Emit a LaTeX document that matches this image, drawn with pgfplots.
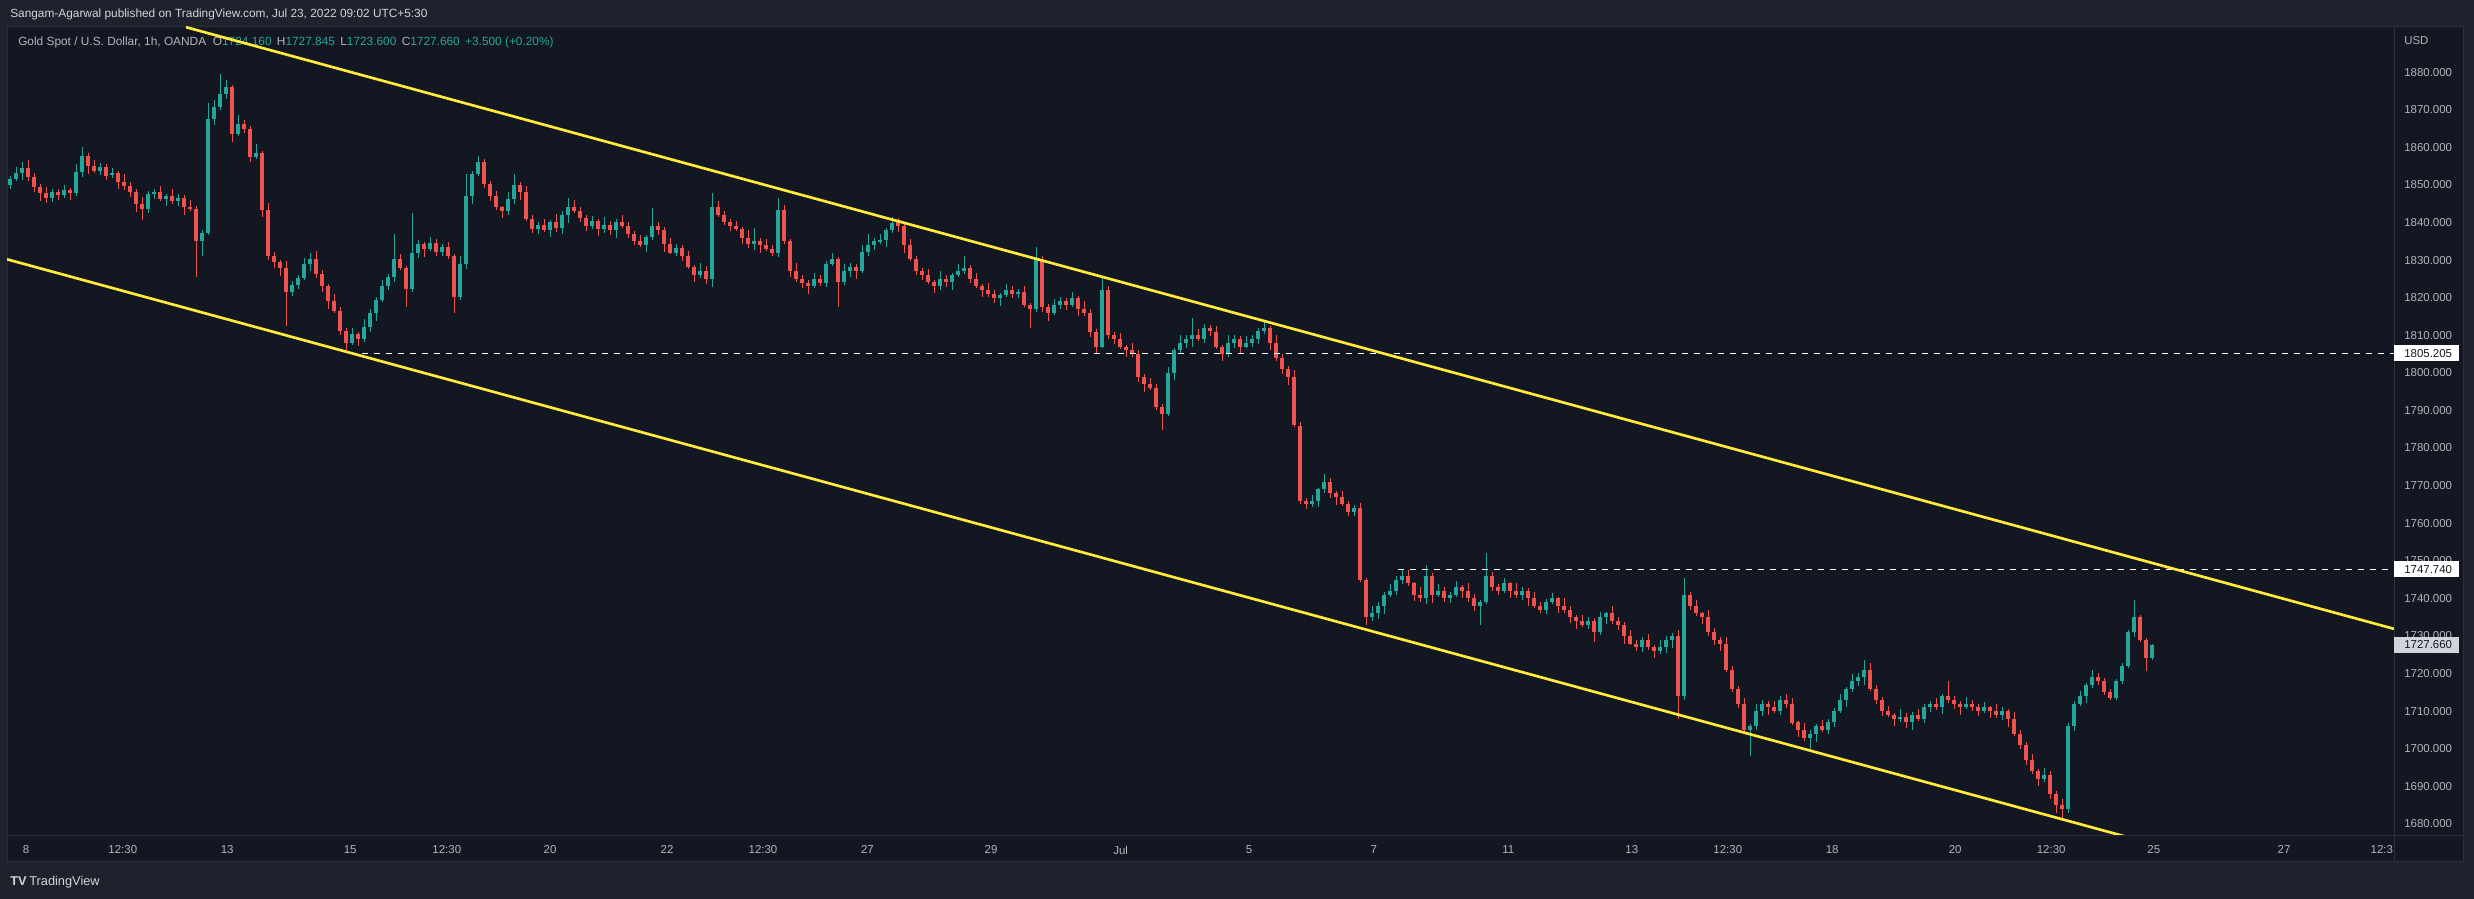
\documentclass[border=0pt]{standalone}
\usepackage{fontspec}
\setmainfont{Liberation Sans}
\usepackage{pgfplots}
\usepackage{pgfplotstable}
\pgfplotsset{compat=1.18}

\definecolor{tvbg}{HTML}{131722}
\definecolor{tvout}{HTML}{1E222D}
\definecolor{tvline}{HTML}{2A2E39}
\definecolor{tvtext}{HTML}{B2B5BE}
\definecolor{tvlight}{HTML}{D1D4DC}
\definecolor{up}{HTML}{26A69A}
\definecolor{down}{HTML}{EF5350}
\definecolor{chan}{HTML}{FFEB3B}

\newcommand{\tvf}{\fontsize{8.6}{10}\selectfont}
\newcommand{\tvh}{\fontsize{8.9}{10}\selectfont}

% XAUUSD, one candle per row (i = bar position)
\pgfplotstableread{
i o h l c
0 1850.0 1852.3 1848.8 1851.5
1 1851.5 1854.7 1850.9 1853.2
2 1853.2 1856.0 1851.4 1854.5
3 1854.5 1856.5 1851.1 1852.0
4 1852.0 1853.1 1848.1 1849.5
5 1849.5 1850.2 1845.7 1847.8
6 1847.8 1849.5 1845.2 1846.5
7 1846.5 1849.0 1845.5 1848.0
8 1848.0 1848.8 1846.0 1847.2
9 1847.2 1850.1 1846.6 1848.6
10 1848.6 1849.1 1846.1 1847.9
11 1847.9 1855.5 1847.0 1853.5
12 1853.5 1860.2 1852.1 1857.8
13 1857.8 1858.5 1852.9 1855.0
14 1855.0 1856.7 1853.1 1853.6
15 1853.6 1855.8 1852.6 1854.8
16 1854.8 1855.6 1851.3 1852.5
17 1852.5 1854.6 1851.9 1853.1
18 1853.1 1853.6 1849.0 1850.8
19 1850.8 1852.8 1848.7 1849.6
20 1849.6 1850.7 1846.8 1848.2
21 1848.2 1848.9 1842.9 1845.0
22 1845.0 1846.7 1840.6 1843.6
23 1843.6 1848.5 1842.6 1847.5
24 1847.5 1848.9 1846.3 1848.1
25 1848.1 1849.6 1845.7 1846.3
26 1846.3 1847.5 1844.5 1847.0
27 1847.0 1849.0 1844.9 1845.8
28 1845.8 1847.7 1844.4 1846.6
29 1846.6 1847.3 1842.1 1844.2
30 1844.2 1845.9 1843.0 1843.5
31 1843.5 1844.5 1825.5 1835.0
32 1835.0 1838.0 1831.0 1837.2
33 1837.2 1871.8 1836.6 1867.5
34 1867.5 1872.5 1866.0 1870.8
35 1870.8 1879.6 1869.9 1874.2
36 1874.2 1878.0 1872.8 1876.0
37 1876.0 1876.7 1861.4 1863.5
38 1863.5 1868.5 1863.0 1866.2
39 1866.2 1867.2 1863.8 1864.8
40 1864.8 1865.6 1856.2 1857.4
41 1857.4 1861.0 1856.8 1858.6
42 1858.6 1859.1 1841.4 1843.2
43 1843.2 1845.2 1830.1 1831.0
44 1831.0 1832.1 1828.0 1829.4
45 1829.4 1830.1 1825.9 1828.0
46 1828.0 1829.7 1812.5 1821.5
47 1821.5 1824.4 1820.5 1823.4
48 1823.4 1826.0 1822.2 1825.2
49 1825.2 1830.5 1824.6 1829.0
50 1829.0 1831.8 1827.2 1830.4
51 1830.4 1832.4 1825.3 1826.2
52 1826.2 1827.3 1821.6 1823.0
53 1823.0 1823.7 1817.1 1819.2
54 1819.2 1820.9 1816.0 1816.5
55 1816.5 1817.5 1810.2 1811.2
56 1811.2 1812.0 1805.2 1808.0
57 1808.0 1811.9 1807.4 1810.4
58 1810.4 1810.9 1807.2 1809.0
59 1809.0 1814.3 1808.1 1812.3
60 1812.3 1817.1 1810.9 1816.0
61 1816.0 1820.1 1813.9 1819.4
62 1819.4 1824.7 1818.9 1823.0
63 1823.0 1826.4 1822.0 1825.4
64 1825.4 1837.0 1824.2 1830.2
65 1830.2 1831.7 1827.4 1828.0
66 1828.0 1828.5 1817.5 1822.4
67 1822.4 1842.5 1821.5 1832.0
68 1832.0 1835.3 1830.6 1834.2
69 1834.2 1834.9 1830.9 1833.0
70 1833.0 1836.2 1832.5 1834.5
71 1834.5 1835.5 1831.2 1832.2
72 1832.2 1834.2 1831.0 1833.4
73 1833.4 1834.9 1830.4 1831.0
74 1831.0 1831.5 1816.0 1820.2
75 1820.2 1831.0 1819.3 1829.0
76 1829.0 1853.0 1827.6 1847.0
77 1847.0 1853.7 1844.9 1853.0
78 1853.0 1857.7 1852.5 1856.0
79 1856.0 1857.0 1849.2 1850.2
80 1850.2 1851.0 1845.8 1847.0
81 1847.0 1848.5 1843.4 1844.0
82 1844.0 1844.5 1841.2 1843.0
83 1843.0 1848.2 1842.1 1846.2
84 1846.2 1853.0 1844.8 1850.0
85 1850.0 1850.7 1845.9 1848.0
86 1848.0 1849.7 1840.5 1841.0
87 1841.0 1842.0 1837.2 1838.2
88 1838.2 1840.2 1837.0 1839.4
89 1839.4 1840.9 1837.4 1838.0
90 1838.0 1840.7 1836.2 1840.2
91 1840.2 1842.2 1837.5 1838.4
92 1838.4 1843.1 1837.0 1842.0
93 1842.0 1846.5 1839.9 1844.2
94 1844.2 1845.9 1842.5 1843.0
95 1843.0 1844.0 1840.2 1841.2
96 1841.2 1842.0 1837.8 1839.0
97 1839.0 1841.8 1838.4 1840.3
98 1840.3 1840.8 1836.4 1838.2
99 1838.2 1841.4 1837.3 1839.4
100 1839.4 1840.5 1836.6 1838.0
101 1838.0 1840.9 1835.9 1840.2
102 1840.2 1841.9 1838.5 1839.0
103 1839.0 1840.0 1836.0 1837.0
104 1837.0 1837.8 1834.0 1835.2
105 1835.2 1836.7 1833.4 1834.0
106 1834.0 1836.7 1832.2 1836.2
107 1836.2 1843.8 1835.3 1839.0
108 1839.0 1840.1 1836.6 1838.0
109 1838.0 1838.7 1832.1 1834.2
110 1834.2 1835.9 1831.5 1832.0
111 1832.0 1834.2 1831.0 1833.2
112 1833.2 1834.0 1829.8 1831.0
113 1831.0 1832.5 1827.6 1828.2
114 1828.2 1828.7 1824.2 1826.0
115 1826.0 1829.2 1825.1 1827.2
116 1827.2 1828.3 1823.6 1825.0
117 1825.0 1847.8 1822.9 1844.0
118 1844.0 1845.7 1841.5 1842.0
119 1842.0 1843.0 1839.2 1840.2
120 1840.2 1841.0 1837.8 1839.0
121 1839.0 1840.5 1837.6 1838.2
122 1838.2 1838.7 1834.2 1836.0
123 1836.0 1838.0 1833.3 1834.2
124 1834.2 1838.5 1832.8 1835.2
125 1835.2 1835.9 1831.9 1834.0
126 1834.0 1835.7 1832.5 1833.0
127 1833.0 1834.0 1831.0 1832.0
128 1832.0 1846.5 1830.8 1843.2
129 1843.2 1844.7 1834.4 1835.0
130 1835.0 1835.5 1825.4 1827.2
131 1827.2 1829.2 1824.1 1825.0
132 1825.0 1826.1 1822.6 1824.0
133 1824.0 1824.7 1821.1 1823.2
134 1823.2 1826.7 1822.7 1825.0
135 1825.0 1826.0 1823.0 1824.0
136 1824.0 1829.8 1822.8 1829.0
137 1829.0 1832.0 1828.4 1830.2
138 1830.2 1830.7 1817.5 1824.2
139 1824.2 1829.0 1823.3 1827.0
140 1827.0 1829.3 1825.6 1828.2
141 1828.2 1828.9 1824.9 1827.0
142 1827.0 1833.9 1826.5 1832.2
143 1832.2 1837.0 1831.2 1834.0
144 1834.0 1835.8 1832.8 1835.0
145 1835.0 1836.9 1834.4 1835.4
146 1835.4 1838.5 1833.6 1838.0
147 1838.0 1841.5 1837.1 1840.0
148 1840.0 1841.1 1837.6 1839.0
149 1839.0 1839.7 1831.9 1834.0
150 1834.0 1835.7 1829.7 1830.2
151 1830.2 1831.2 1826.0 1827.0
152 1827.0 1827.8 1824.8 1826.0
153 1826.0 1827.5 1823.6 1824.2
154 1824.2 1824.7 1821.2 1823.0
155 1823.0 1827.0 1822.1 1825.0
156 1825.0 1826.1 1822.8 1824.2
157 1824.2 1826.7 1822.1 1826.0
158 1826.0 1828.9 1825.5 1827.2
159 1827.2 1831.0 1826.2 1828.0
160 1828.0 1828.8 1823.8 1825.0
161 1825.0 1826.5 1822.6 1823.2
162 1823.2 1823.7 1820.2 1822.0
163 1822.0 1824.0 1820.1 1821.0
164 1821.0 1822.1 1818.6 1820.0
165 1820.0 1821.3 1817.9 1820.6
166 1820.6 1823.7 1820.1 1822.0
167 1822.0 1823.0 1820.0 1821.0
168 1821.0 1822.3 1819.8 1821.5
169 1821.5 1823.0 1817.4 1818.0
170 1818.0 1818.5 1812.0 1817.0
171 1817.0 1833.5 1816.1 1830.0
172 1830.0 1831.1 1816.1 1817.5
173 1817.5 1818.2 1813.9 1816.0
174 1816.0 1819.7 1815.5 1818.0
175 1818.0 1820.2 1817.0 1819.2
176 1819.2 1820.0 1816.8 1818.0
177 1818.0 1821.5 1817.4 1820.0
178 1820.0 1820.5 1815.2 1817.0
179 1817.0 1819.0 1815.1 1816.0
180 1816.0 1817.1 1809.6 1811.0
181 1811.0 1811.7 1805.2 1807.0
182 1807.0 1825.5 1806.5 1822.0
183 1822.0 1823.0 1809.0 1810.0
184 1810.0 1810.8 1807.8 1809.0
185 1809.0 1810.5 1806.4 1807.0
186 1807.0 1807.5 1804.2 1806.0
187 1806.0 1808.0 1804.1 1805.0
188 1805.0 1806.1 1797.6 1799.0
189 1799.0 1799.7 1794.9 1797.0
190 1797.0 1798.7 1795.5 1796.0
191 1796.0 1797.0 1790.0 1791.0
192 1791.0 1791.8 1784.8 1789.0
193 1789.0 1801.5 1788.4 1800.0
194 1800.0 1806.5 1798.2 1806.0
195 1806.0 1810.0 1805.1 1808.0
196 1808.0 1810.1 1806.6 1809.0
197 1809.0 1814.6 1806.9 1810.0
198 1810.0 1811.7 1808.5 1809.0
199 1809.0 1813.0 1808.0 1812.0
200 1812.0 1812.8 1809.8 1811.0
201 1811.0 1812.5 1806.4 1807.0
202 1807.0 1807.5 1803.2 1805.0
203 1805.0 1810.0 1804.1 1808.0
204 1808.0 1810.1 1806.6 1809.0
205 1809.0 1809.7 1804.9 1807.0
206 1807.0 1809.7 1806.5 1808.0
207 1808.0 1810.0 1807.0 1809.0
208 1809.0 1811.8 1807.8 1811.0
209 1811.0 1813.5 1810.4 1812.0
210 1812.0 1812.5 1806.2 1808.0
211 1808.0 1810.0 1803.1 1804.0
212 1804.0 1805.1 1799.6 1801.0
213 1801.0 1801.7 1796.9 1799.0
214 1799.0 1800.7 1785.5 1786.0
215 1786.0 1787.0 1765.0 1766.0
216 1766.0 1766.8 1763.8 1765.0
217 1765.0 1767.5 1764.4 1766.0
218 1766.0 1769.5 1764.2 1769.0
219 1769.0 1773.0 1768.1 1771.0
220 1771.0 1772.1 1766.6 1768.0
221 1768.0 1768.7 1764.9 1767.0
222 1767.0 1768.7 1764.5 1765.0
223 1765.0 1766.0 1762.0 1763.0
224 1763.0 1764.8 1761.8 1764.0
225 1764.0 1765.5 1744.4 1745.0
226 1745.0 1745.5 1733.0 1735.0
227 1735.0 1738.0 1734.1 1736.0
228 1736.0 1739.1 1734.6 1738.0
229 1738.0 1741.7 1735.9 1741.0
230 1741.0 1743.7 1740.5 1742.0
231 1742.0 1746.0 1741.0 1745.0
232 1745.0 1747.7 1743.8 1746.0
233 1746.0 1747.5 1743.4 1744.0
234 1744.0 1744.5 1739.2 1741.0
235 1741.0 1743.0 1739.1 1740.0
236 1740.0 1749.0 1738.6 1746.0
237 1746.0 1746.7 1738.9 1741.0
238 1741.0 1743.7 1740.5 1742.0
239 1742.0 1743.0 1739.0 1740.0
240 1740.0 1741.8 1738.8 1741.0
241 1741.0 1744.5 1740.4 1743.0
242 1743.0 1743.5 1740.2 1742.0
243 1742.0 1744.0 1739.1 1740.0
244 1740.0 1741.1 1736.6 1738.0
245 1738.0 1739.7 1733.0 1739.0
246 1739.0 1752.0 1738.5 1746.0
247 1746.0 1747.0 1742.0 1743.0
248 1743.0 1743.8 1740.8 1742.0
249 1742.0 1745.5 1741.4 1744.0
250 1744.0 1744.5 1740.2 1742.0
251 1742.0 1744.0 1740.1 1741.0
252 1741.0 1743.1 1739.6 1742.0
253 1742.0 1742.7 1737.9 1740.0
254 1740.0 1741.7 1737.5 1738.0
255 1738.0 1739.0 1736.0 1737.0
256 1737.0 1739.8 1735.8 1739.0
257 1739.0 1741.5 1738.4 1740.0
258 1740.0 1740.5 1736.2 1738.0
259 1738.0 1740.0 1736.1 1737.0
260 1737.0 1738.1 1733.6 1735.0
261 1735.0 1735.7 1731.9 1734.0
262 1734.0 1735.7 1732.5 1733.0
263 1733.0 1735.0 1732.0 1734.0
264 1734.0 1734.8 1728.5 1731.0
265 1731.0 1736.5 1730.4 1735.0
266 1735.0 1736.5 1733.2 1736.0
267 1736.0 1738.0 1733.1 1734.0
268 1734.0 1735.1 1731.6 1733.0
269 1733.0 1733.7 1727.9 1730.0
270 1730.0 1731.7 1727.5 1728.0
271 1728.0 1729.0 1726.0 1727.0
272 1727.0 1729.8 1725.8 1729.0
273 1729.0 1730.5 1726.4 1727.0
274 1727.0 1727.5 1724.2 1726.0
275 1726.0 1729.0 1725.1 1727.0
276 1727.0 1730.1 1725.6 1729.0
277 1729.0 1730.7 1726.9 1730.0
278 1730.0 1731.7 1708.0 1714.0
279 1714.0 1745.4 1713.0 1741.0
280 1741.0 1741.8 1736.8 1738.0
281 1738.0 1739.5 1735.4 1736.0
282 1736.0 1736.5 1733.2 1735.0
283 1735.0 1737.0 1730.1 1731.0
284 1731.0 1732.1 1727.6 1729.0
285 1729.0 1729.7 1725.9 1728.0
286 1728.0 1729.7 1720.5 1721.0
287 1721.0 1722.0 1715.0 1716.0
288 1716.0 1716.8 1710.8 1712.0
289 1712.0 1713.5 1704.4 1705.0
290 1705.0 1706.5 1698.0 1706.0
291 1706.0 1712.0 1705.1 1710.0
292 1710.0 1713.1 1708.6 1712.0
293 1712.0 1712.7 1708.9 1711.0
294 1711.0 1712.7 1709.5 1710.0
295 1710.0 1714.0 1709.0 1713.0
296 1713.0 1714.5 1710.8 1712.0
297 1712.0 1713.5 1706.4 1707.0
298 1707.0 1707.5 1703.2 1705.0
299 1705.0 1707.0 1702.1 1703.0
300 1703.0 1705.1 1700.0 1704.0
301 1704.0 1706.7 1701.9 1706.0
302 1706.0 1707.7 1704.5 1705.0
303 1705.0 1708.0 1704.0 1707.0
304 1707.0 1710.8 1705.8 1710.0
305 1710.0 1714.5 1709.4 1713.0
306 1713.0 1716.5 1711.2 1716.0
307 1716.0 1720.0 1715.1 1718.0
308 1718.0 1720.1 1716.6 1719.0
309 1719.0 1723.6 1716.9 1721.0
310 1721.0 1722.7 1715.5 1716.0
311 1716.0 1717.0 1712.0 1713.0
312 1713.0 1713.8 1708.8 1710.0
313 1710.0 1711.5 1708.4 1709.0
314 1709.0 1709.5 1706.2 1708.0
315 1708.0 1710.5 1707.1 1708.5
316 1708.5 1709.6 1705.6 1707.0
317 1707.0 1709.7 1704.9 1709.0
318 1709.0 1710.7 1707.5 1708.0
319 1708.0 1712.0 1707.0 1711.0
320 1711.0 1712.8 1709.8 1712.0
321 1712.0 1713.5 1710.4 1711.0
322 1711.0 1714.5 1709.2 1714.0
323 1714.0 1718.0 1712.1 1713.0
324 1713.0 1714.1 1710.6 1712.0
325 1712.0 1712.7 1708.9 1711.0
326 1711.0 1713.7 1710.5 1712.0
327 1712.0 1713.0 1710.0 1711.0
328 1711.0 1711.8 1708.8 1710.0
329 1710.0 1712.5 1709.4 1711.0
330 1711.0 1711.5 1708.2 1710.0
331 1710.0 1712.0 1708.1 1709.0
332 1709.0 1711.1 1707.6 1710.0
333 1710.0 1710.7 1705.9 1708.0
334 1708.0 1709.7 1703.5 1704.0
335 1704.0 1705.0 1700.0 1701.0
336 1701.0 1701.8 1695.8 1697.0
337 1697.0 1698.5 1693.4 1694.0
338 1694.0 1694.5 1690.2 1692.0
339 1692.0 1695.0 1691.1 1693.0
340 1693.0 1694.1 1686.6 1688.0
341 1688.0 1688.7 1682.9 1685.0
342 1685.0 1686.7 1681.0 1684.0
343 1684.0 1707.0 1683.0 1706.0
344 1706.0 1712.8 1704.8 1712.0
345 1712.0 1715.5 1711.4 1714.0
346 1714.0 1717.5 1712.2 1717.0
347 1717.0 1721.0 1716.1 1719.0
348 1719.0 1720.1 1716.9 1718.0
349 1718.0 1718.7 1714.2 1715.0
350 1715.0 1715.8 1713.0 1713.5
351 1713.5 1718.6 1713.0 1718.0
352 1718.0 1722.8 1717.2 1722.0
353 1722.0 1731.6 1721.4 1731.0
354 1731.0 1739.6 1729.8 1735.0
355 1735.0 1735.7 1728.4 1729.0
356 1729.0 1729.6 1720.6 1724.16
357 1724.16 1727.845 1723.6 1727.66
}\gold

\begin{document}
\begin{tikzpicture}
\useasboundingbox (0,0) rectangle (1855.5pt,674.25pt);
% page and panel, in screen pixels (y down)
\begin{scope}[x=0.75pt,y=-0.75pt,shift={(0pt,674.25pt)}]
  \fill[tvout] (0,0) rectangle (2474,899);
  \fill[tvbg] (7,27) rectangle (2463,862);
  \draw[tvline, line width=0.75pt] (7,27) rectangle (2463,862);
  \node[anchor=west, inner sep=0pt, text=tvlight, font=\tvh] at (10,14)
    {Sangam-Agarwal published on TradingView.com, Jul 23, 2022 09:02 UTC+5:30};
  \node[anchor=west, inner sep=0pt, text=tvtext, font=\tvh] at (18,42)
    {Gold Spot / U.S. Dollar, 1h, OANDA\hspace{5pt}O\textcolor{up}{1724.160}\hspace{4pt}H\textcolor{up}{1727.845}\hspace{4pt}L\textcolor{up}{1723.600}\hspace{4pt}C\textcolor{up}{1727.660}\hspace{4pt}\textcolor{up}{+3.500 (+0.20\%)}};
\end{scope}

\begin{axis}[
  at={(5.25pt,47.25pt)}, anchor=south west,
  scale only axis, width=1790.25pt, height=606.75pt,
  xmin=-0.5, xmax=397.33, ymin=1676.8, ymax=1892,
  axis line style={draw=none},
  major tick length=0pt,
  scaled y ticks=false,
  yticklabel pos=right,
  ytick={1680,1690,...,1880},
  xtick={2.67,18.8,36.2,56.7,72.8,90,109.5,125.5,142.9,163.5,185.1,206.5,227.3,249.7,270.3,286.3,303.7,324.2,340.2,357.3,379,395.3},
  xticklabels={8,12:30,13,15,12:30,20,22,12:30,27,29,Jul,5,7,11,13,12:30,18,20,12:30,25,27,12:3},
  ticklabel style={font=\tvf, text=tvtext, inner sep=0pt},
  xticklabel style={anchor=center, yshift=-10.5pt},
  yticklabel style={anchor=west, xshift=7.5pt,
    /pgf/number format/fixed, /pgf/number format/fixed zerofill,
    /pgf/number format/precision=3, /pgf/number format/1000 sep={},
    /pgf/number format/assume math mode=true},
  clip mode=individual,
]
% wicks
\addplot[draw=none, mark=none, forget plot,
  restrict expr to domain={\thisrow{c}-\thisrow{o}}{0:1000},
  error bars/.cd, y dir=both, y explicit, error mark=none,
  error bar style={line width=0.75pt, draw=up}]
  table[x=i, y expr={(\thisrow{h}+\thisrow{l})/2}, y error expr={(\thisrow{h}-\thisrow{l})/2}] {\gold};
\addplot[draw=none, mark=none, forget plot,
  restrict expr to domain={\thisrow{o}-\thisrow{c}}{0.0001:1000},
  error bars/.cd, y dir=both, y explicit, error mark=none,
  error bar style={line width=0.75pt, draw=down}]
  table[x=i, y expr={(\thisrow{h}+\thisrow{l})/2}, y error expr={(\thisrow{h}-\thisrow{l})/2}] {\gold};
% bodies
\addplot[draw=none, mark=none, forget plot,
  restrict expr to domain={\thisrow{c}-\thisrow{o}}{0:1000},
  error bars/.cd, y dir=both, y explicit, error mark=none,
  error bar style={line width=3pt, draw=up}]
  table[x=i, y expr={(\thisrow{o}+\thisrow{c})/2}, y error expr={(\thisrow{c}-\thisrow{o})/2}] {\gold};
\addplot[draw=none, mark=none, forget plot,
  restrict expr to domain={\thisrow{o}-\thisrow{c}}{0.0001:1000},
  error bars/.cd, y dir=both, y explicit, error mark=none,
  error bar style={line width=3pt, draw=down}]
  table[x=i, y expr={(\thisrow{o}+\thisrow{c})/2}, y error expr={(\thisrow{o}-\thisrow{c})/2}] {\gold};
% horizontal levels
\addplot[white, line width=1pt, dash pattern=on 4.5pt off 4.5pt, forget plot]
  coordinates {(56.7,1805.205) (397.33,1805.205)};
\addplot[white, line width=1pt, dash pattern=on 4.5pt off 4.5pt, forget plot]
  coordinates {(231.3,1747.74) (397.33,1747.74)};
% channel
\addplot[chan, line width=2pt, forget plot]
  coordinates {(29.33,1891.95) (397.33,1731.9)};
\addplot[chan, line width=2pt, forget plot]
  coordinates {(-0.5,1830.2) (397.33,1657.2)};
\end{axis}

\begin{scope}[x=0.75pt,y=-0.75pt,shift={(0pt,674.25pt)}]
  \draw[tvline, line width=0.75pt] (7,836) -- (2463,836);
  \draw[tvline, line width=0.75pt] (2394,27) -- (2394,862);
  \node[anchor=west, inner sep=0pt, text=tvtext, font=\tvf] at (2404,41) {USD};
  \fill[white] (2394,345.3) rectangle (2459,361.3);
  \node[anchor=west, inner sep=0pt, text=tvbg, font=\tvf] at (2404,353.3) {1805.205};
  \fill[white] (2394,561.3) rectangle (2459,577.3);
  \node[anchor=west, inner sep=0pt, text=tvbg, font=\tvf] at (2404,569.3) {1747.740};
  \fill[tvlight] (2394,636.8) rectangle (2459,652.8);
  \node[anchor=west, inner sep=0pt, text=tvbg, font=\tvf] at (2404,644.8) {1727.660};
  \node[anchor=west, inner sep=0pt, text=tvlight, font=\fontsize{9.6}{11}\selectfont] at (10,882)
    {\textbf{TV}\hspace{2pt}TradingView};
\end{scope}
\end{tikzpicture}
\end{document}
